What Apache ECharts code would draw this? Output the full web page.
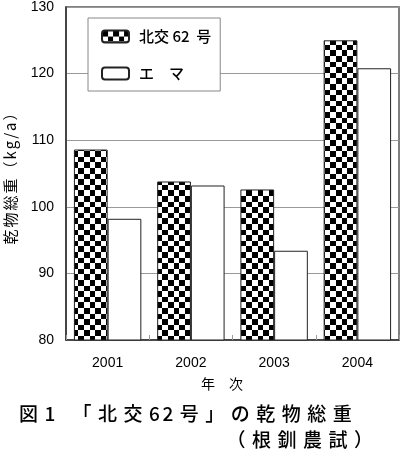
<!DOCTYPE html>
<html><head><meta charset="utf-8">
<script src="https://cdn.jsdelivr.net/npm/echarts@6/dist/echarts.min.js"></script>
<style>html,body{margin:0;padding:0;background:#fff}#c{width:400px;height:456px}</style>
</head><body><div id="c"></div>
<script>
const years = ['2001', '2002', '2003', '2004'];
const hokko62 = [108.6, 103.8, 102.6, 125.0];
const ema = [98.2, 103.2, 93.4, 120.8];
const seriesNames = ['北交 62 号', 'エ マ'];
const legendLabels = { '北交 62 号': '北交 62  号', 'エ マ': 'エ　マ' };
const yMin = 80, yMax = 130, yStep = 10;
const xAxisName = '年次';
const yAxisName = '乾物総重（kg/a）';
const titleText = '図1 「北交62号」の乾物総重';
const subTitleText = '（根釧農試）';

const JP = "'Noto Sans CJK JP', 'Liberation Sans', sans-serif";
const LAT = "'Liberation Sans', Arial, sans-serif";

function checker(cell, n) {
  const size = Math.round(cell * n);
  const c = document.createElement('canvas');
  c.width = size; c.height = size;
  const g = c.getContext('2d');
  g.fillStyle = '#fff'; g.fillRect(0, 0, size, size);
  g.fillStyle = '#000';
  for (let i = 0; i < n; i++) for (let j = 0; j < n; j++) {
    if ((i + j) % 2 === 0) {
      const x0 = Math.round(i * cell), x1 = Math.round((i + 1) * cell);
      const y0 = Math.round(j * cell), y1 = Math.round((j + 1) * cell);
      g.fillRect(x0, y0, x1 - x0, y1 - y0);
    }
  }
  return c;
}

const mctx = document.createElement('canvas').getContext('2d');
function spacedGroup(str, fontSize, spacing, opts) {
  const weight = opts.weight || 'normal';
  const font = weight + ' ' + fontSize + 'px ' + JP;
  mctx.font = font;
  const chars = Array.from(str);
  let x = 0; const items = [];
  chars.forEach((ch, i) => {
    const w = mctx.measureText(ch).width;
    items.push({ ch, x, w });
    const next = chars[i + 1];
    const narrow = /[0-9]/.test(ch) && next && /[0-9]/.test(next);
    x += w + (i < chars.length - 1 ? (narrow ? spacing * 0.4 : spacing) : 0);
  });
  const total = x;
  let shift = 0;
  if (opts.align === 'center') shift = -total / 2;
  else if (opts.align === 'right') shift = -total;
  return {
    type: 'group',
    x: opts.x, y: opts.y, rotation: opts.rotation || 0,
    children: items.filter(it => it.ch !== ' ').map(it => ({
      type: 'text', x: it.x + shift, y: 0,
      style: { text: it.ch, font: font, fill: '#000', align: 'left', verticalAlign: 'middle',
               textAlign: 'left', textVerticalAlign: 'middle' }
    }))
  };
}

const pattern = { image: checker(5.6, 10), repeat: 'repeat' };

const chart = echarts.init(document.getElementById('c'));
chart.setOption({
  animation: false,
  backgroundColor: '#fff',
  grid: { left: 66, right: 1, top: 4, bottom: 116, show: true, borderColor: '#555', borderWidth: 1.5 },
  legend: {
    left: 88, top: 18, orient: 'vertical',
    itemWidth: 27, itemHeight: 12, itemGap: 22,
    padding: [11, 9, 10, 13],
    backgroundColor: '#fff', borderColor: '#888', borderWidth: 1,
    textStyle: { fontFamily: JP, fontSize: 15, fontWeight: 500, color: '#000', padding: [0, 0, 0, 5] },
    formatter: name => legendLabels[name] || name,
    data: seriesNames
  },
  xAxis: {
    type: 'category', data: years,
    axisLine: { lineStyle: { color: '#333', width: 1.5 } },
    axisTick: { show: true, inside: true, length: 5, lineStyle: { color: '#999' } },
    axisLabel: { margin: 16, fontSize: 14, color: '#000', fontFamily: LAT },
    splitLine: { show: false }
  },
  yAxis: {
    type: 'value', min: yMin, max: yMax, interval: yStep,
    axisLine: { show: true, lineStyle: { color: '#333', width: 1.5 } },
    axisTick: { show: false },
    axisLabel: { margin: 12, fontSize: 14, color: '#000', fontFamily: LAT },
    splitLine: { lineStyle: { color: '#999' } }
  },
  series: [
    { name: seriesNames[0], type: 'bar', data: hokko62, barGap: '0%', barCategoryGap: '19%',
      itemStyle: { color: pattern, borderColor: '#222', borderWidth: 1 } },
    { name: seriesNames[1], type: 'bar', data: ema, barGap: '0%', barCategoryGap: '19%',
      itemStyle: { color: '#fff', borderColor: '#222', borderWidth: 1 } }
  ],
  graphic: [
    spacedGroup(xAxisName, 14, 14, { x: 222, y: 384, align: 'center' }),
    spacedGroup(yAxisName, 15, 2, { x: 10.5, y: 175, align: 'center', rotation: Math.PI / 2 }),
    spacedGroup(titleText, 19, 6.5, { x: 19, y: 414, align: 'left', weight: 500 }),
    spacedGroup(subTitleText, 19, 6.5, { x: 373, y: 440, align: 'right', weight: 500 })
  ]
});
</script>
</body></html>
